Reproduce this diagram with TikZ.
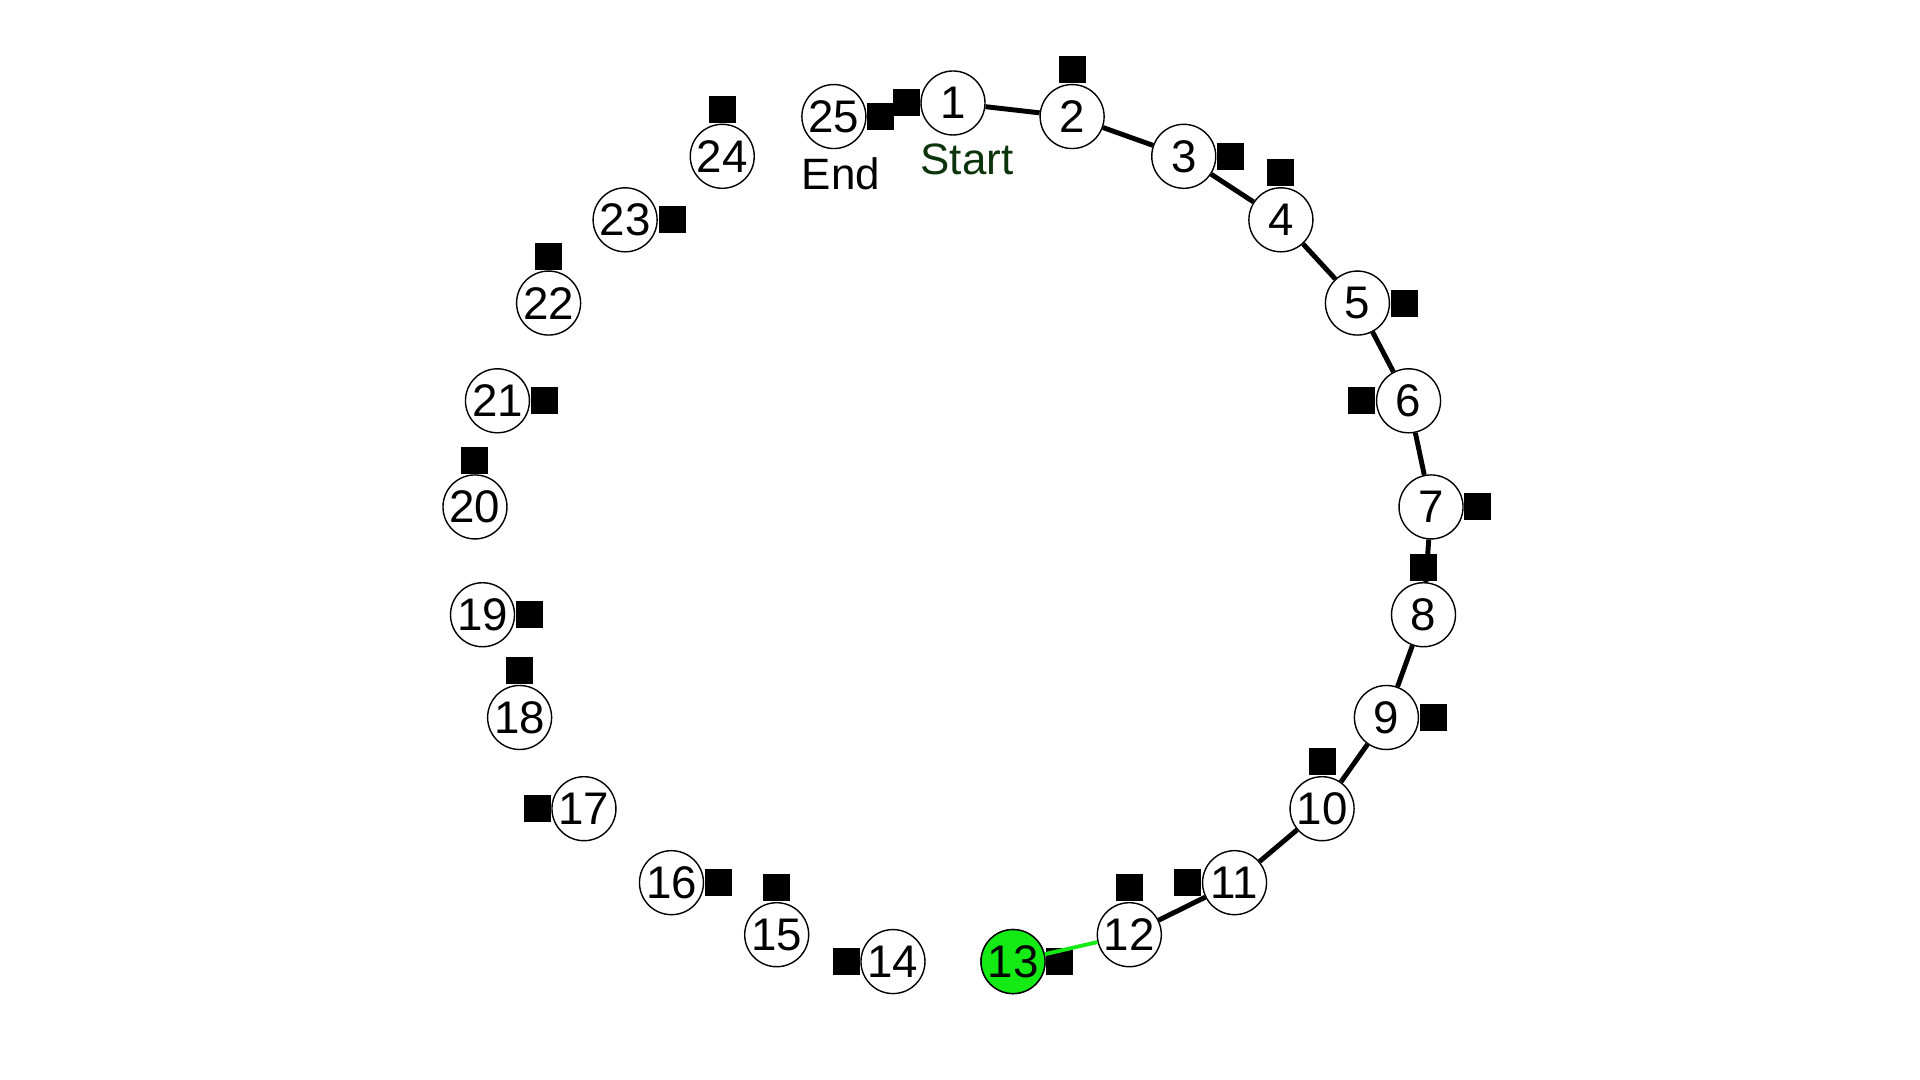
\documentclass[tikz,border=0pt]{standalone}
\usepackage{fontspec}
\setmainfont{Liberation Sans}
\usetikzlibrary{positioning}
\definecolor{visitgreen}{RGB}{20,235,20}
\definecolor{startgreen}{RGB}{12,52,12}

\begin{document}
\begin{tikzpicture}[
  stop/.style={draw, circle, fill=white, minimum size=6.4mm, inner sep=0pt,
    line width=0.4pt, font=\fontsize{13}{15}\selectfont},
  flag/.style={fill=black, minimum size=2.7mm, inner sep=0pt},
  trail/.style={line width=1.4pt},
  note/.style={font=\fontsize{12.5}{14}\selectfont}
]
  \useasboundingbox (0,0) rectangle (19.2,10.8);
  \def\CX{9.53} \def\CY{5.46} \def\RX{4.79} \def\RY{4.31}

  % stops on the ring
  \foreach \i in {1,...,25}{
    \pgfmathsetmacro\ang{90-(\i-1)*14.4}
    \node[stop] (n\i) at ({\CX+\RX*cos(\ang)},{\CY+\RY*sin(\ang)}) {\i};
  }
  \node[stop, fill=visitgreen] at (n13) {13};

  % flags
  \foreach \i/\side/\anc in {1/west/east, 2/north/south, 3/east/west,
      4/north/south, 5/east/west, 6/west/east, 7/east/west, 8/north/south,
      9/east/west, 10/north/south, 11/west/east, 12/north/south, 13/east/west,
      14/west/east, 15/north/south, 16/east/west, 17/west/east, 18/north/south,
      19/east/west, 20/north/south, 21/east/west, 22/north/south, 23/east/west,
      24/north/south, 25/east/west}
    \node[flag, anchor=\anc] (f\i) at (n\i.\side) {};

  % path walked so far
  \foreach \i [evaluate=\i as \j using int(\i+1)] in {1,...,11}
    \draw[trail] (n\i) -- (n\j);
  \draw[trail, visitgreen, line width=1.1pt] (n12) -- (n13);

  \node[note, text=startgreen] (start) at ([shift={(0.14,-0.56)}]n1) {Start};
  \node[note] (finish) at ([shift={(0.07,-0.57)}]n25) {End};
\end{tikzpicture}
\end{document}
